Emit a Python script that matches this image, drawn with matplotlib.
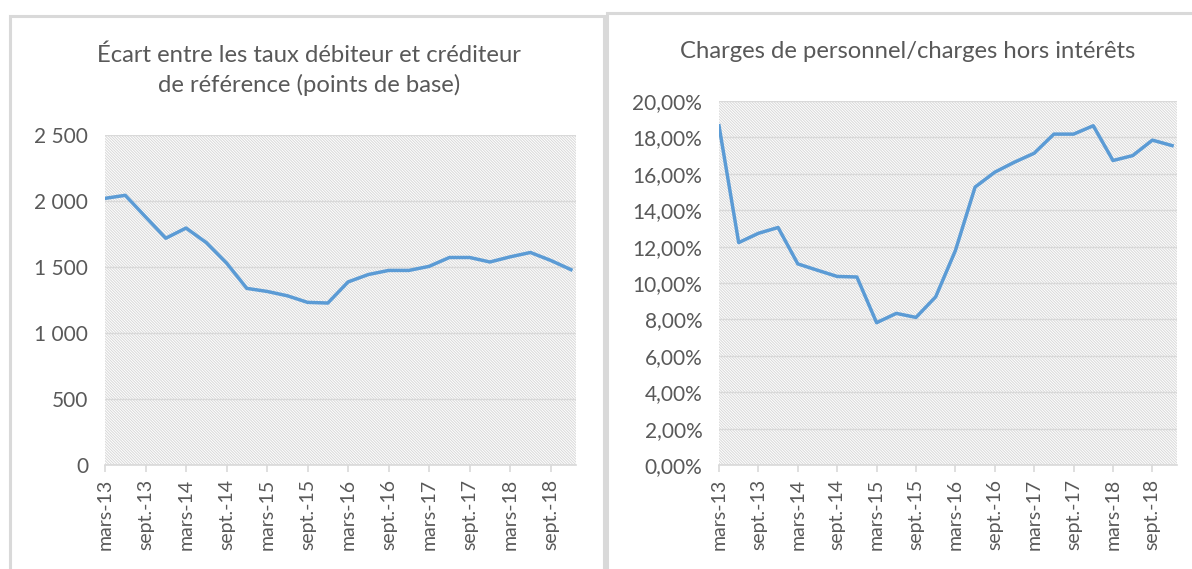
import numpy as np
import matplotlib
matplotlib.use("Agg")
import matplotlib.pyplot as plt
from matplotlib.patches import Rectangle
from matplotlib.ticker import FuncFormatter

# =========================
# DATA (quarterly, mars-13 -> déc-18)
# =========================

quarters = ["mars-13", "juin-13", "sept.-13", "déc.-13",
            "mars-14", "juin-14", "sept.-14", "déc.-14",
            "mars-15", "juin-15", "sept.-15", "déc.-15",
            "mars-16", "juin-16", "sept.-16", "déc.-16",
            "mars-17", "juin-17", "sept.-17", "déc.-17",
            "mars-18", "juin-18", "sept.-18", "déc.-18"]

ecart_pb = [2020, 2043, 1880, 1718, 1795, 1685, 1530, 1338,
            1315, 1282, 1232, 1227, 1387, 1443, 1474, 1474,
            1505, 1572, 1572, 1538, 1577, 1610, 1550, 1480]

charges_pct = [18.64, 12.22, 12.73, 13.05, 11.05, 10.70, 10.36, 10.33,
               7.82, 8.33, 8.11, 9.24, 11.78, 15.27, 16.09, 16.64,
               17.13, 18.18, 18.18, 18.64, 16.73, 17.00, 17.85, 17.55]

left_title = "Écart entre les taux débiteur et créditeur\nde référence (points de base)"
right_title = "Charges de personnel/charges hors intérêts"

# =========================
# STYLE
# =========================

plt.rcParams["font.family"] = ["Lato", "DejaVu Sans"]
plt.rcParams["hatch.linewidth"] = 0.7

TEXT = "#595959"
GRID = "#d9d9d9"
LINE = "#5b9bd5"

W, H = 1192, 569
fig = plt.figure(figsize=(W / 100, H / 100), dpi=100)


def px_rect(x0, y0, x1, y1):
    # pixel box (top-left origin) -> figure fraction rect
    return [x0 / W, 1 - y1 / H, (x1 - x0) / W, (y1 - y0) / H]


# panel borders
for x0, y0, x1 in [(10, 16, 604), (607, 13, 1200)]:
    fig.patches.append(Rectangle((x0 / W, -0.1), (x1 - x0) / W, 1.1 - y0 / H,
                                 transform=fig.transFigure, facecolor="white",
                                 edgecolor=GRID, linewidth=2.2, zorder=-5))


def style_axis(ax, values, ylim, yticks, fmt):
    x = np.arange(len(values))
    ax.add_patch(Rectangle((0, 0), 1, 1, transform=ax.transAxes,
                           facecolor="white", edgecolor="#d8d8d8",
                           linewidth=0, hatch="\\" * 12, zorder=0.2))
    ax.plot(x, values, color=LINE, linewidth=2.5, solid_joinstyle="round",
            zorder=3)
    ax.set_xlim(0, len(values) - 0.75)
    ax.set_ylim(*ylim)
    ax.set_yticks(yticks)
    ax.yaxis.set_major_formatter(FuncFormatter(fmt))
    ax.set_xticks(x[::2])
    ax.set_xticklabels(quarters[::2], rotation=90)
    ax.set_axisbelow(True)
    ax.grid(axis="y", color=GRID, linewidth=1.0)
    for s in ["top", "right", "left"]:
        ax.spines[s].set_visible(False)
    ax.spines["bottom"].set_color(GRID)
    ax.spines["bottom"].set_linewidth(1.2)
    ax.tick_params(axis="x", colors=GRID, length=5, width=1.2,
                   labelcolor=TEXT, labelsize=14, pad=5)
    ax.tick_params(axis="y", length=0, labelcolor=TEXT, labelsize=15, pad=12)
    ax.patch.set_alpha(0)


# =========================
# LEFT CHART
# =========================

ax1 = fig.add_axes(px_rect(105, 135, 576, 465))
style_axis(ax1, ecart_pb, (0, 2500), np.arange(0, 2501, 500),
           lambda v, p: f"{int(v):,}".replace(",", " "))
fig.text(309 / W, 1 - 70 / H, left_title, ha="center", va="center",
         color=TEXT, fontsize=17.2, linespacing=1.45)

# =========================
# RIGHT CHART
# =========================

ax2 = fig.add_axes(px_rect(719, 101, 1177, 465))
style_axis(ax2, charges_pct, (0, 20), np.arange(0, 20.1, 2),
           lambda v, p: f"{v:.2f}%".replace(".", ","))
fig.text(908 / W, 1 - 52 / H, right_title, ha="center", va="center",
         color=TEXT, fontsize=17.2)

fig.savefig("out.png", dpi=100)
